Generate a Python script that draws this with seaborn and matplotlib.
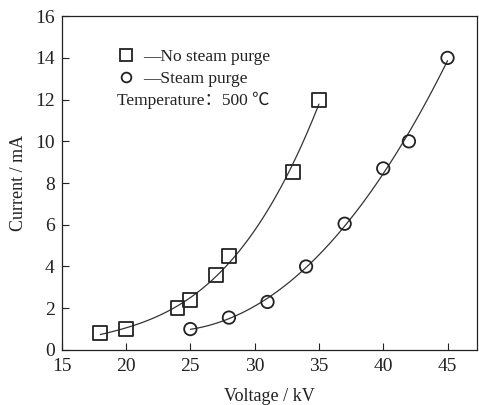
import numpy as np
import pandas as pd
import matplotlib
matplotlib.use("Agg")
import matplotlib.pyplot as plt
import seaborn as sns
from matplotlib.lines import Line2D

# data
no_steam_v = [18, 20, 24, 25, 27, 28, 33, 35]
no_steam_i = [0.8, 1.0, 2.0, 2.4, 3.6, 4.5, 8.55, 12.0]
steam_v = [25, 28, 31, 34, 37, 40, 42, 45]
steam_i = [1.0, 1.55, 2.3, 4.0, 6.05, 8.7, 10.0, 14.0]

df_no = pd.DataFrame({"Voltage": no_steam_v, "Current": no_steam_i})
df_st = pd.DataFrame({"Voltage": steam_v, "Current": steam_i})

sns.set_style("ticks")
plt.rcParams["font.family"] = ["Liberation Serif", "DejaVu Serif"]

fig = plt.figure(figsize=(4.79, 4.05), dpi=100)
ax = fig.add_axes([0.129, 0.136, 0.867, 0.824])

# fitted curves
sns.regplot(data=df_no, x="Voltage", y="Current", order=3, ci=None, scatter=False,
            truncate=True, ax=ax, line_kws={"color": "#333333", "lw": 0.9})
sns.regplot(data=df_st, x="Voltage", y="Current", order=3, ci=None, scatter=False,
            truncate=True, ax=ax, line_kws={"color": "#333333", "lw": 0.9})

# markers
sns.scatterplot(data=df_no, x="Voltage", y="Current", marker="s", s=100,
                facecolor="none", edgecolor="#222222", linewidth=1.3, ax=ax, zorder=3)
sns.scatterplot(data=df_st, x="Voltage", y="Current", marker="o", s=80,
                facecolor="none", edgecolor="#222222", linewidth=1.3, ax=ax, zorder=3)

ax.set_xlim(15, 47.3)
ax.set_ylim(0, 16)
ax.set_xticks([15, 20, 25, 30, 35, 40, 45])
ax.set_yticks([0, 2, 4, 6, 8, 10, 12, 14, 16])
ax.tick_params(direction="in", length=5, width=0.8, labelsize=14, colors="#222222")
ax.tick_params(axis="x", pad=6)
ax.tick_params(axis="y", pad=5)
for s in ax.spines.values():
    s.set_linewidth(0.9)
    s.set_color("#222222")
ax.set_xlabel("Voltage / kV", fontsize=13, color="#222222", labelpad=9)
ax.set_ylabel("Current / mA", fontsize=13, color="#222222", labelpad=6)

handles = [
    Line2D([], [], marker="s", ls="none", mfc="none", mec="#222222", ms=8, mew=1.3),
    Line2D([], [], marker="o", ls="none", mfc="none", mec="#222222", ms=7, mew=1.3),
]
leg = ax.legend(handles, ["\u2014No steam purge", "\u2014Steam purge"],
                loc="upper left", bbox_to_anchor=(0.1, 0.95), frameon=False,
                fontsize=12.5, handlelength=0.8, handletextpad=0.6, labelspacing=0.35)
for t in leg.get_texts():
    t.set_color("#222222")
ax.text(0.133, 0.749, "Temperature\uff1a500 \u2103", transform=ax.transAxes,
        fontsize=12.5, color="#222222", va="center",
        family=["Liberation Serif", "Noto Sans CJK SC", "DejaVu Sans"])

fig.savefig("out.png", dpi=100)
